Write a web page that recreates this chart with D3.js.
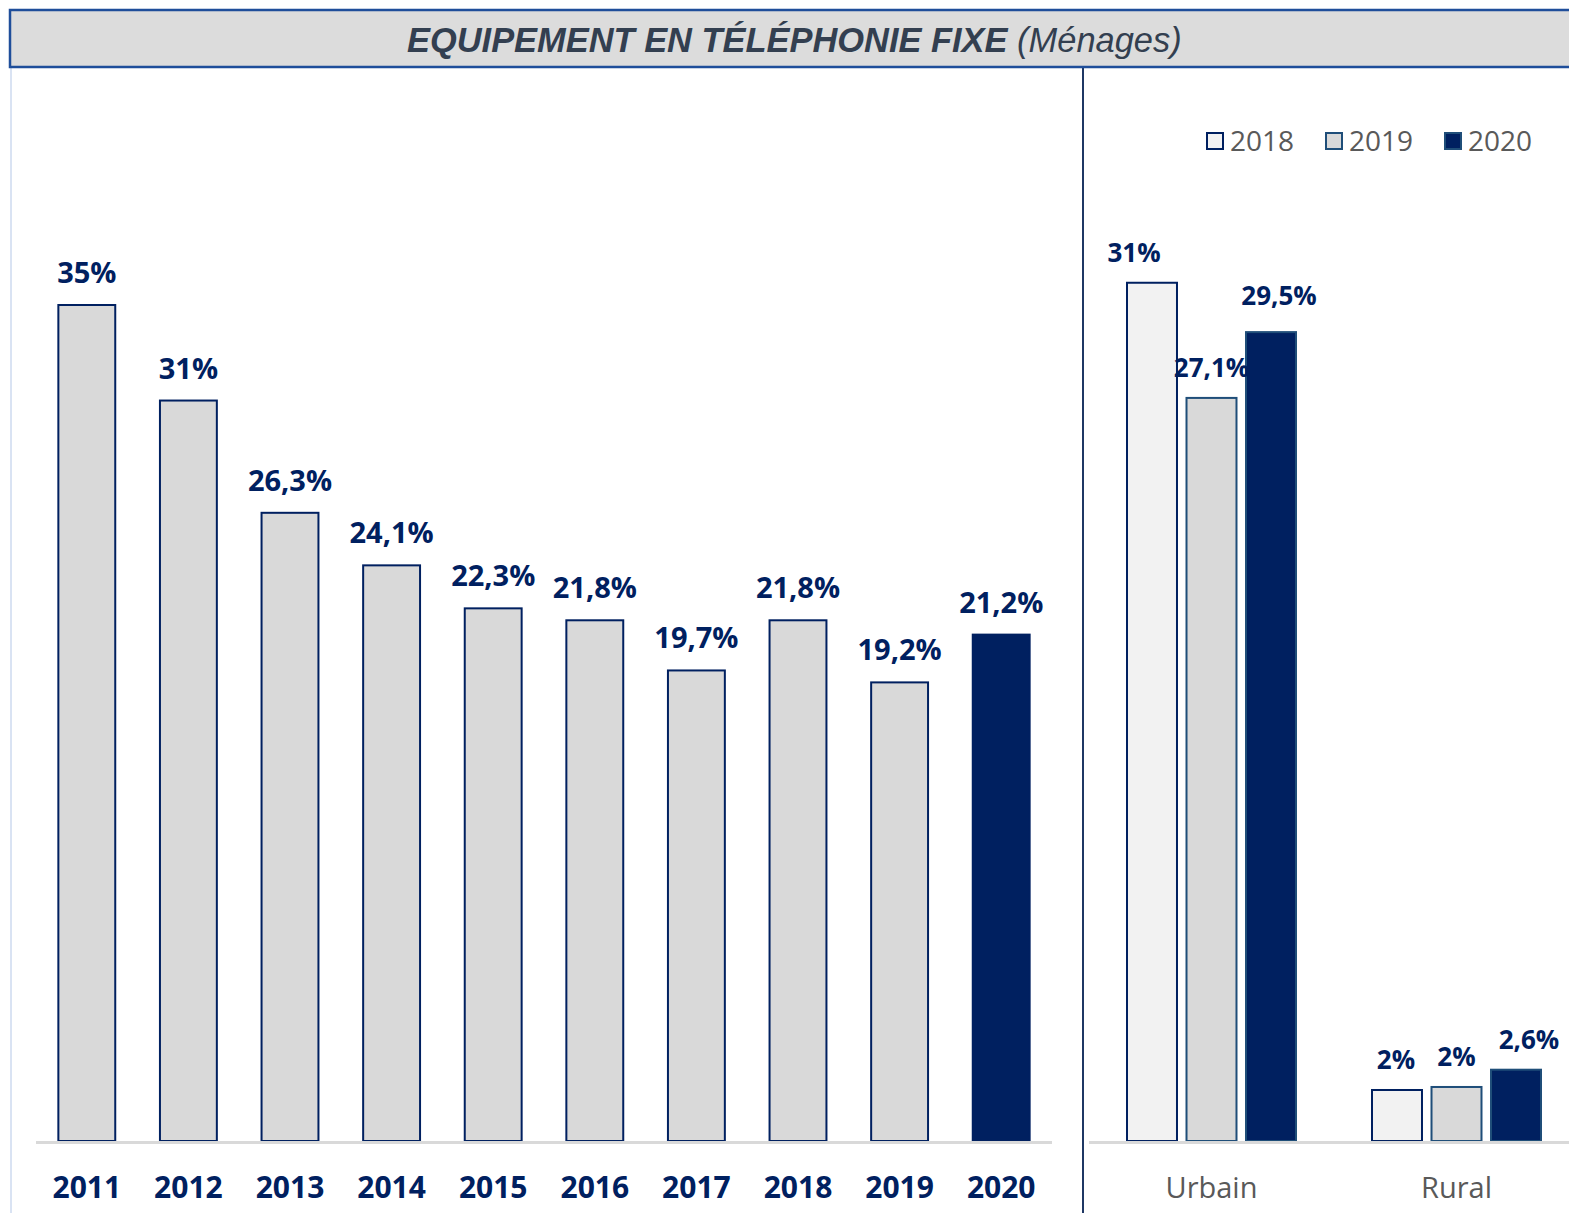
<!DOCTYPE html>
<html>
<head>
<meta charset="utf-8">
<script src="https://cdn.jsdelivr.net/npm/d3@7"></script>
<style>
  body { margin: 0; background: #ffffff; }
  svg { display: block; }
</style>
</head>
<body>
<div id="chart"></div>
<script>
// left chart: yearly household equipment
const years = ["2011", "2012", "2013", "2014", "2015", "2016", "2017", "2018", "2019", "2020"];
const yearValues = [35, 31, 26.3, 24.1, 22.3, 21.8, 19.7, 21.8, 19.2, 21.2];
const yearLabels = ["35%", "31%", "26,3%", "24,1%", "22,3%", "21,8%", "19,7%", "21,8%", "19,2%", "21,2%"];

// right chart: urban / rural split
const zones = ["Urbain", "Rural"];
const seriesYears = ["2018", "2019", "2020"];
const urbainValues = [31.3, 27.1, 29.5];
const ruralValues = [1.86, 1.97, 2.6];
const urbainLabels = ["31%", "27,1%", "29,5%"];
const ruralLabels = ["2%", "2%", "2,6%"];

const width = 1569;
const height = 1213;
const navy = "#002060";
const baseY = 1141;

const svg = d3.select("#chart")
  .append("svg")
    .attr("width", width)
    .attr("height", height);

// frame lines
svg.append("line")
  .attr("x1", 11).attr("x2", 11).attr("y1", 67).attr("y2", height)
  .attr("stroke", "#b4c7e7").attr("stroke-width", 1);
svg.append("line")
  .attr("x1", 1083).attr("x2", 1083).attr("y1", 67).attr("y2", height)
  .attr("stroke", "#1f3864").attr("stroke-width", 2);

// title box
svg.append("rect")
  .attr("x", 10).attr("y", 10)
  .attr("width", 1575).attr("height", 57)
  .attr("fill", "#dcdcdc")
  .attr("stroke", "#1f4e9a")
  .attr("stroke-width", 2.5);

const title = svg.append("text")
  .attr("font-family", "'Liberation Sans', Arial, sans-serif")
  .attr("font-size", 35)
  .attr("font-style", "italic")
  .attr("fill", "#333f50");
title.append("tspan").attr("font-weight", "bold").text("EQUIPEMENT EN TÉLÉPHONIE FIXE");
title.append("tspan").text(" (Ménages)");
// squeeze the title to the width seen in the picture
const tw = title.node().getComputedTextLength();
const targetW = 775;
title.attr("transform", "translate(407,52) scale(" + (targetW / tw) + ",1)");

// ---------- left chart ----------
const x = d3.scaleBand()
  .domain(years)
  .range([36, 1052])
  .paddingInner(0.44)
  .paddingOuter(0.22);

const y = d3.scaleLinear()
  .domain([0, 35])
  .range([baseY, 305]);

const leftData = years.map(function(d, i) {
  return { year: d, value: yearValues[i], label: yearLabels[i] };
});

svg.append("g")
  .selectAll("rect")
  .data(leftData)
  .join("rect")
    .attr("x", d => x(d.year))
    .attr("y", d => y(d.value))
    .attr("width", x.bandwidth())
    .attr("height", d => baseY - y(d.value))
    .attr("fill", d => d.year === "2020" ? navy : "#d9d9d9")
    .attr("stroke", navy)
    .attr("stroke-width", 2);

svg.append("line")
  .attr("x1", 36).attr("x2", 1052).attr("y1", baseY + 1.5).attr("y2", baseY + 1.5)
  .attr("stroke", "#d9d9d9").attr("stroke-width", 3);

svg.append("g")
  .selectAll("text")
  .data(leftData)
  .join("text")
    .attr("x", d => x(d.year) + x.bandwidth() / 2)
    .attr("y", d => y(d.value) - 22)
    .attr("text-anchor", "middle")
    .attr("font-family", "'Open Sans', sans-serif")
    .attr("font-weight", "bold")
    .attr("font-size", 29)
    .attr("fill", navy)
    .text(d => d.label);

const xAxis = svg.append("g")
  .attr("transform", "translate(0," + baseY + ")")
  .call(d3.axisBottom(x).tickSize(0).tickPadding(0));
xAxis.select(".domain").remove();
xAxis.selectAll("text")
  .attr("dy", null)
  .attr("y", 57)
  .attr("font-family", "'Open Sans', sans-serif")
  .attr("font-weight", "bold")
  .attr("font-size", 30)
  .attr("fill", navy);

// ---------- right chart ----------
const x0 = d3.scaleBand()
  .domain(zones)
  .range([1089, 1579]);

const x1 = d3.scaleBand()
  .domain(seriesYears)
  .range([0, 169])
  .paddingInner(0.16)
  .paddingOuter(0);

const y2 = d3.scaleLinear()
  .domain([0, 35])
  .range([baseY, baseY - 35 * 27.42]);

const fills = { "2018": "#f2f2f2", "2019": "#d9d9d9", "2020": navy };
const strokes = { "2018": navy, "2019": "#1f4e79", "2020": "#1f4e79" };

// hand nudges of the data labels, as placed in the original
const labelDx = { "Urbain": [-18, 0, 8], "Rural": [-1, 0, 13] };
const labelDy = { "Urbain": [0, 0, 6], "Rural": [0, 0, 0] };

const rightData = [];
zones.forEach(function(z) {
  const vals = z === "Urbain" ? urbainValues : ruralValues;
  const labs = z === "Urbain" ? urbainLabels : ruralLabels;
  seriesYears.forEach(function(s, i) {
    rightData.push({ zone: z, year: s, value: vals[i], label: labs[i], i: i });
  });
});

function barX(d) {
  return x0(d.zone) + x0.bandwidth() / 2 - 84.5 + x1(d.year);
}

svg.append("g")
  .selectAll("rect")
  .data(rightData)
  .join("rect")
    .attr("x", barX)
    .attr("y", d => y2(d.value))
    .attr("width", x1.bandwidth())
    .attr("height", d => baseY - y2(d.value))
    .attr("fill", d => fills[d.year])
    .attr("stroke", d => strokes[d.year])
    .attr("stroke-width", 2);

svg.append("line")
  .attr("x1", 1089).attr("x2", width).attr("y1", baseY + 1.5).attr("y2", baseY + 1.5)
  .attr("stroke", "#d9d9d9").attr("stroke-width", 3);

svg.append("g")
  .selectAll("text")
  .data(rightData)
  .join("text")
    .attr("x", d => barX(d) + x1.bandwidth() / 2 + labelDx[d.zone][d.i])
    .attr("y", d => y2(d.value) - 21 - labelDy[d.zone][d.i])
    .attr("text-anchor", "middle")
    .attr("font-family", "'Open Sans', sans-serif")
    .attr("font-weight", "bold")
    .attr("font-size", 26)
    .attr("fill", navy)
    .text(d => d.label);

const zAxis = svg.append("g")
  .attr("transform", "translate(0," + baseY + ")")
  .call(d3.axisBottom(x0).tickSize(0).tickPadding(0));
zAxis.select(".domain").remove();
zAxis.selectAll("text")
  .attr("dy", null)
  .attr("y", 57)
  .attr("font-family", "'Open Sans', sans-serif")
  .attr("font-size", 29)
  .attr("fill", "#595959");

// legend
const legendX = [1206, 1325, 1444];
const legend = svg.append("g")
  .selectAll("g")
  .data(seriesYears)
  .join("g")
    .attr("transform", (d, i) => "translate(" + legendX[i] + ",132)");
legend.append("rect")
  .attr("x", 1).attr("y", 1)
  .attr("width", 16).attr("height", 16)
  .attr("fill", d => fills[d])
  .attr("stroke", d => strokes[d])
  .attr("stroke-width", 2);
legend.append("text")
  .attr("x", 24)
  .attr("y", 19)
  .attr("font-family", "'Open Sans', sans-serif")
  .attr("font-size", 28)
  .attr("fill", "#595959")
  .text(d => d);
</script>
</body>
</html>
